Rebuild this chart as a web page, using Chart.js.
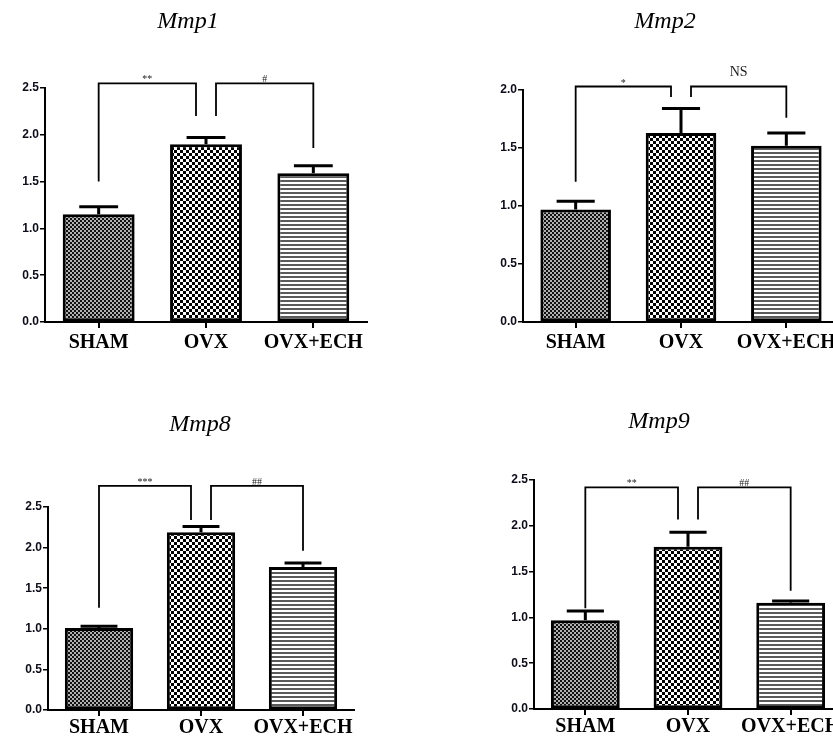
<!DOCTYPE html>
<html>
<head>
<meta charset="utf-8">
<script src="https://cdn.jsdelivr.net/npm/chart.js@4.4.0/dist/chart.umd.min.js"></script>
<style>
  html, body { margin: 0; padding: 0; background: #fff; overflow: hidden; }
  body { width: 833px; height: 736px; position: relative; }
  canvas { position: absolute; }
</style>
</head>
<body>
<canvas id="mmp1" width="416" height="368" style="left:0;top:0"></canvas>
<canvas id="mmp2" width="430" height="368" style="left:416px;top:0"></canvas>
<canvas id="mmp8" width="416" height="390" style="left:0;top:368px"></canvas>
<canvas id="mmp9" width="430" height="390" style="left:416px;top:368px"></canvas>
<script>
// groups
var groups = ['SHAM', 'OVX', 'OVX+ECH'];

// relative expression, mean and SEM
var mmp1Mean = [1.15, 1.90, 1.59];
var mmp1Sem  = [0.08, 0.07, 0.08];
var mmp2Mean = [0.97, 1.63, 1.52];
var mmp2Sem  = [0.07, 0.21, 0.11];
var mmp8Mean = [1.01, 2.19, 1.76];
var mmp8Sem  = [0.02, 0.07, 0.05];
var mmp9Mean = [0.97, 1.77, 1.16];
var mmp9Sem  = [0.10, 0.16, 0.02];

// y ticks
var ticks25 = [0, 0.5, 1.0, 1.5, 2.0, 2.5];
var ticks20 = [0, 0.5, 1.0, 1.5, 2.0];

// significance marks: from group, to group, label
var mmp1Sig = [{from: 0, to: 1, label: '**'}, {from: 1, to: 2, label: '#'}];
var mmp2Sig = [{from: 0, to: 1, label: '*'},  {from: 1, to: 2, label: 'NS'}];
var mmp8Sig = [{from: 0, to: 1, label: '***'}, {from: 1, to: 2, label: '##'}];
var mmp9Sig = [{from: 0, to: 1, label: '**'}, {from: 1, to: 2, label: '##'}];

// bracket heights in axis units: [top, leg at from, leg at to]
var mmp1Brk = [[2.55, 1.50, 2.20], [2.55, 2.20, 1.86]];
var mmp2Brk = [[2.03, 1.21, 1.94], [2.03, 1.94, 1.76]];
var mmp8Brk = [[2.76, 1.26, 2.34], [2.76, 2.34, 1.96]];
var mmp9Brk = [[2.42, 1.10, 2.07], [2.42, 2.07, 1.29]];

// hatch fills
function makePattern(kind) {
  var t = document.createElement('canvas');
  var c = t.getContext('2d');
  if (kind == 'fine') {
    t.width = 4; t.height = 4;
    c.fillStyle = '#b0b0b0'; c.fillRect(0, 0, 4, 4);
    c.fillStyle = '#111';
    c.fillRect(0, 0, 2, 2); c.fillRect(2, 2, 2, 2);
  } else if (kind == 'coarse') {
    t.width = 6; t.height = 6;
    c.fillStyle = '#fff'; c.fillRect(0, 0, 6, 6);
    c.fillStyle = '#000';
    c.fillRect(0, 0, 3, 3); c.fillRect(3, 3, 3, 3);
  } else {
    t.width = 4; t.height = 4;
    c.fillStyle = '#fff'; c.fillRect(0, 0, 4, 4);
    c.fillStyle = '#5a5a5a'; c.fillRect(0, 0, 4, 2);
  }
  return document.createElement('canvas').getContext('2d').createPattern(t, 'repeat');
}
var fills = [makePattern('fine'), makePattern('coarse'), makePattern('lines')];

function makePanel(id, title, means, sems, yTicks, sig, brk, lay) {
  var Y_W = 40, X_H = 36;
  var extras = {
    id: 'extras',
    afterDraw: function (chart) {
      var ctx = chart.ctx;
      var y = chart.scales.y;
      var meta = chart.getDatasetMeta(0);
      ctx.save();
      ctx.strokeStyle = '#000';
      // error bars
      ctx.lineWidth = 3;
      meta.data.forEach(function (bar, i) {
        var top = y.getPixelForValue(means[i] + sems[i]);
        var cap = bar.width * 0.27;
        ctx.beginPath();
        ctx.moveTo(bar.x, bar.y);
        ctx.lineTo(bar.x, top);
        ctx.moveTo(bar.x - cap, top);
        ctx.lineTo(bar.x + cap, top);
        ctx.stroke();
      });
      // brackets
      ctx.lineWidth = 1.8;
      sig.forEach(function (s, k) {
        var x1 = meta.data[s.from].x + (s.from == 1 ? 10 : 0);
        var x2 = meta.data[s.to].x - (s.to == 1 ? 10 : 0);
        var yt = y.getPixelForValue(brk[k][0]);
        ctx.beginPath();
        ctx.moveTo(x1, y.getPixelForValue(brk[k][1]));
        ctx.lineTo(x1, yt);
        ctx.lineTo(x2, yt);
        ctx.lineTo(x2, y.getPixelForValue(brk[k][2]));
        ctx.stroke();
        ctx.fillStyle = '#222';
        ctx.textAlign = 'center';
        ctx.textBaseline = 'alphabetic';
        if (s.label == 'NS') {
          ctx.font = '14px "Liberation Serif"';
          ctx.fillText(s.label, (x1 + x2) / 2, yt - 11);
        } else {
          ctx.font = '10px "Liberation Serif"';
          ctx.fillText(s.label, (x1 + x2) / 2, yt - 1);
        }
      });
      // title
      ctx.fillStyle = '#000';
      ctx.font = 'italic 24px "Liberation Serif"';
      ctx.textAlign = 'center';
      ctx.textBaseline = 'middle';
      ctx.fillText(title, lay.titleX - lay.x, lay.titleY - lay.y);
      ctx.restore();
    }
  };

  return new Chart(document.getElementById(id), {
    type: 'bar',
    data: {
      labels: groups,
      datasets: [{
        data: means,
        backgroundColor: fills,
        borderColor: '#000',
        borderWidth: 3,
        borderSkipped: false,
        barPercentage: 0.67,
        categoryPercentage: 1
      }]
    },
    options: {
      responsive: false,
      animation: false,
      layout: {
        padding: {
          left: lay.left - lay.x - Y_W,
          right: lay.x + lay.w - lay.right,
          top: lay.top - lay.y,
          bottom: lay.y + lay.h - lay.base - X_H
        }
      },
      plugins: { legend: { display: false }, tooltip: { enabled: false } },
      scales: {
        x: {
          offset: true,
          grid: { drawOnChartArea: false, offset: false, tickLength: 6, color: '#000', lineWidth: 2 },
          border: { display: true, color: '#000', width: 2 },
          ticks: {
            color: '#000', padding: lay.labelPad, maxRotation: 0, autoSkip: false,
            font: { family: 'Liberation Serif', weight: 'bold', size: 20 }
          },
          afterFit: function (s) { s.height = X_H; }
        },
        y: {
          min: 0,
          max: yTicks[yTicks.length - 1],
          afterBuildTicks: function (s) { s.ticks = yTicks.map(function (v) { return {value: v}; }); },
          grid: { drawOnChartArea: false, tickLength: 5, color: '#000', lineWidth: 1.5 },
          border: { display: true, color: '#000', width: 2 },
          ticks: {
            color: '#0d0d1a', padding: 1,
            font: { family: 'Liberation Sans', weight: 'bold', size: 12 },
            callback: function (v) { return Number(v).toFixed(1); }
          },
          afterFit: function (s) { s.width = Y_W; }
        }
      }
    },
    plugins: [extras]
  });
}

makePanel('mmp1', 'Mmp1', mmp1Mean, mmp1Sem, ticks25, mmp1Sig, mmp1Brk,
  {x: 0, y: 0, w: 416, h: 368, left: 45, right: 367, top: 88, base: 322, titleX: 188, titleY: 22, labelPad: 3});
makePanel('mmp2', 'Mmp2', mmp2Mean, mmp2Sem, ticks20, mmp2Sig, mmp2Brk,
  {x: 416, y: 0, w: 430, h: 368, left: 523, right: 839, top: 90, base: 322, titleX: 665, titleY: 22, labelPad: 3});
makePanel('mmp8', 'Mmp8', mmp8Mean, mmp8Sem, ticks25, mmp8Sig, mmp8Brk,
  {x: 0, y: 368, w: 416, h: 390, left: 48, right: 354, top: 507, base: 710, titleX: 200, titleY: 425, labelPad: 0});
makePanel('mmp9', 'Mmp9', mmp9Mean, mmp9Sem, ticks25, mmp9Sig, mmp9Brk,
  {x: 416, y: 368, w: 430, h: 390, left: 534, right: 842, top: 480, base: 709, titleX: 659, titleY: 422, labelPad: 0});
</script>
</body>
</html>
